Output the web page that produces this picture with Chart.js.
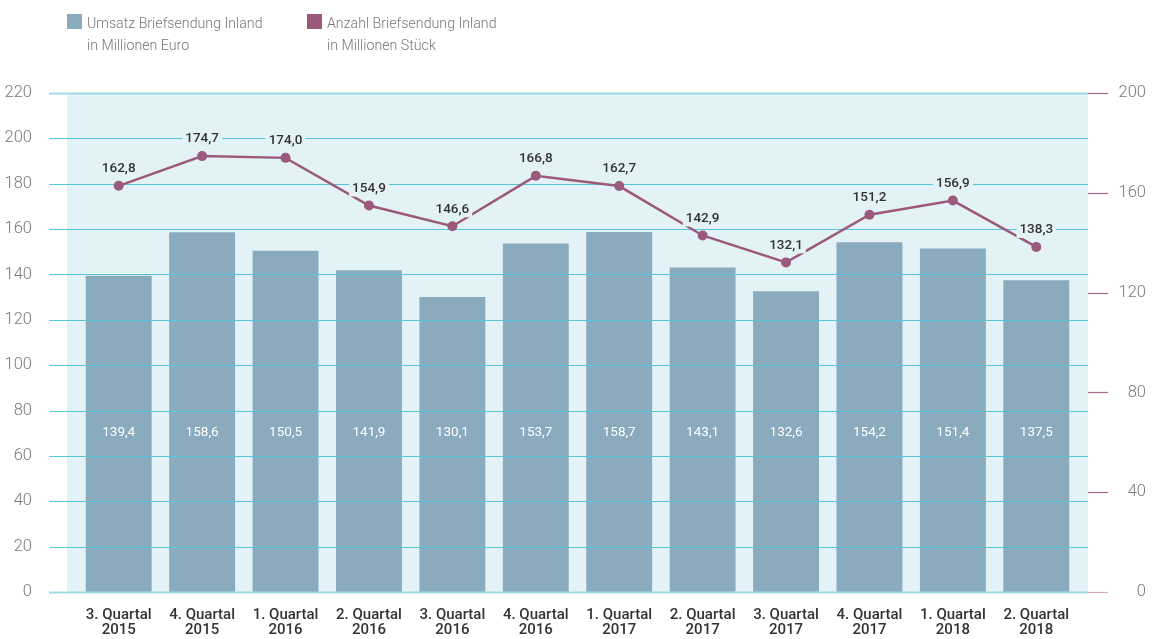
<!DOCTYPE html>
<html>
<head>
<meta charset="utf-8">
<script src="https://cdn.jsdelivr.net/npm/chart.js@4/dist/chart.umd.min.js"></script>
<style>
  body { margin: 0; background: #fff; }
  #wrap { position: relative; width: 1160px; height: 639px; }
  #chart { position: absolute; left: 0; top: 0; }
  .legend { position: absolute; top: 12px; font: 300 14.2px Roboto, sans-serif; color: #777; line-height: 22px; }
  .legend .box { position: absolute; left: 0; top: 2px; width: 15px; height: 15px; }
  .legend .txt { margin-left: 20px; }
</style>
</head>
<body>
<div id="wrap">
  <canvas id="chart" width="1160" height="639"></canvas>
  <div class="legend" style="left:67px"><div class="box" style="background:#8aabbd"></div><div class="txt">Umsatz Briefsendung Inland<br>in Millionen Euro</div></div>
  <div class="legend" style="left:307px"><div class="box" style="background:#9b5a7b"></div><div class="txt">Anzahl Briefsendung Inland<br>in Millionen Stück</div></div>
</div>
<script>
// Quartale
const quarters = [
  ["3. Quartal", "2015"], ["4. Quartal", "2015"], ["1. Quartal", "2016"], ["2. Quartal", "2016"],
  ["3. Quartal", "2016"], ["4. Quartal", "2016"], ["1. Quartal", "2017"], ["2. Quartal", "2017"],
  ["3. Quartal", "2017"], ["4. Quartal", "2017"], ["1. Quartal", "2018"], ["2. Quartal", "2018"]
];
// Umsatz in Mio. Euro (linke Achse)
const umsatz = [139.4, 158.6, 150.5, 141.9, 130.1, 153.7, 158.7, 143.1, 132.6, 154.2, 151.4, 137.5];
// Anzahl in Mio. Stück (rechte Achse)
const anzahl = [162.8, 174.7, 174.0, 154.9, 146.6, 166.8, 162.7, 142.9, 132.1, 151.2, 156.9, 138.3];

const fmt = v => v.toLocaleString("de-DE", { minimumFractionDigits: 1, maximumFractionDigits: 1 });
const plotBg = "#e3f2f7";

const decor = {
  id: "decor",
  beforeDraw(chart) {
    const { ctx, chartArea: a } = chart;
    ctx.save();
    ctx.fillStyle = plotBg;
    ctx.fillRect(a.left - 10, a.top, a.width + 20, a.height);
    ctx.restore();
  },
  afterDatasetDraw(chart, args) {
    if (args.index !== 0) return;
    const { ctx, chartArea: a } = chart;
    const y = chart.scales.y, y1 = chart.scales.y1;
    ctx.save();
    // grid lines over the bars, under the line
    y.ticks.forEach(t => {
      const py = Math.round(y.getPixelForValue(t.value)) + 0.5;
      const edge = t.value === 0 || t.value === 220;
      ctx.strokeStyle = edge ? "#9fdbe6" : "#55c6dc";
      ctx.lineWidth = edge ? 2 : 1.2;
      ctx.beginPath();
      ctx.moveTo(49, py);
      ctx.lineTo(a.right + 10, py);
      ctx.stroke();
    });
    // right axis tick marks
    y1.ticks.forEach(t => {
      const py = Math.round(y1.getPixelForValue(t.value)) + 0.5;
      ctx.strokeStyle = t.value === 0 ? "#d9a9c0" : "#a5678a";
      ctx.lineWidth = 1.2;
      ctx.beginPath();
      ctx.moveTo(a.right + 10, py);
      ctx.lineTo(a.right + 30, py);
      ctx.stroke();
    });
    // bar value labels
    const meta = chart.getDatasetMeta(0);
    ctx.font = "400 13.5px Roboto";
    ctx.fillStyle = "#ffffff";
    ctx.textAlign = "center";
    ctx.textBaseline = "middle";
    meta.data.forEach((bar, i) => {
      ctx.fillText(fmt(umsatz[i]), bar.x, bar.base - 159);
    });
    ctx.restore();
  },
  afterDatasetsDraw(chart) {
    const { ctx } = chart;
    const meta = chart.getDatasetMeta(1);
    ctx.save();
    ctx.font = "500 13.5px Roboto";
    ctx.textAlign = "center";
    ctx.textBaseline = "middle";
    meta.data.forEach((pt, i) => {
      const txt = fmt(anzahl[i]);
      const w = ctx.measureText(txt).width + 6;
      const ty = pt.y - 17;
      ctx.fillStyle = plotBg;
      ctx.fillRect(pt.x - w / 2, ty - 8, w, 16);
      ctx.fillStyle = "#333333";
      ctx.fillText(txt, pt.x, ty);
    });
    ctx.restore();
  }
};

new Chart(document.getElementById("chart"), {
  data: {
    labels: quarters,
    datasets: [
      {
        type: "bar",
        label: "Umsatz Briefsendung Inland in Millionen Euro",
        data: umsatz,
        backgroundColor: "#8aabbd",
        barPercentage: 0.79,
        categoryPercentage: 1,
        yAxisID: "y",
        order: 2
      },
      {
        type: "line",
        label: "Anzahl Briefsendung Inland in Millionen Stück",
        data: anzahl,
        borderColor: "#9b5a7b",
        backgroundColor: "#9b5a7b",
        borderWidth: 2.5,
        pointRadius: 5,
        pointBackgroundColor: "#9b5a7b",
        pointBorderWidth: 0,
        tension: 0,
        yAxisID: "y1",
        order: 1
      }
    ]
  },
  options: {
    responsive: false,
    animation: false,
    devicePixelRatio: 1,
    layout: { autoPadding: false, padding: { top: 93, left: 0, right: 14, bottom: 0 } },
    plugins: { legend: { display: false }, tooltip: { enabled: false } },
    scales: {
      x: {
        grid: { display: false },
        border: { display: false },
        ticks: { color: "#333", font: { family: "Roboto", size: 15, weight: 500, lineHeight: 0.97 }, padding: 8, maxRotation: 0 },
        afterFit: s => { s.height = 47; }
      },
      y: {
        position: "left",
        min: 0, max: 220,
        grid: { display: false },
        border: { display: false },
        ticks: { stepSize: 20, color: "#7a7a7a", font: { family: "Roboto", size: 16.5, weight: 300, lineHeight: 1 }, padding: 37 },
        afterFit: s => { s.width = 77; }
      },
      y1: {
        position: "right",
        min: 0, max: 200,
        grid: { display: false },
        border: { display: false },
        ticks: { stepSize: 40, color: "#7a7a7a", font: { family: "Roboto", size: 16.5, weight: 300, lineHeight: 1 }, padding: 0, crossAlign: "far" },
        afterFit: s => { s.width = 68; }
      }
    }
  },
  plugins: [decor]
});
</script>
</body>
</html>
